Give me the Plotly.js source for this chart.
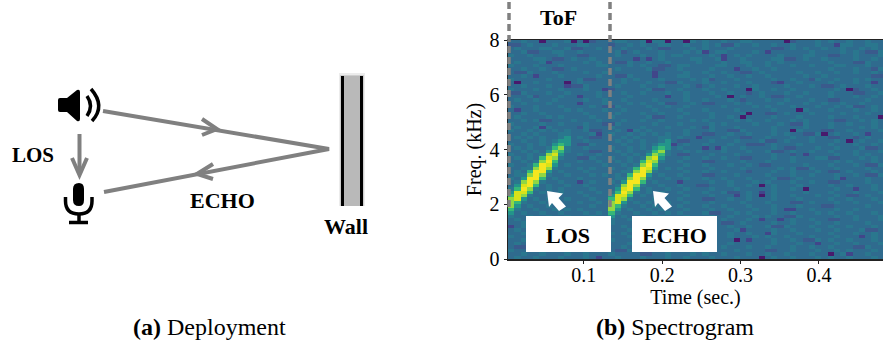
<!DOCTYPE html>
<html><head><meta charset="utf-8">
<script src="https://cdn.plot.ly/plotly-3.0.1.min.js"></script>
<style>html,body{margin:0;padding:0;background:#fff}#c{width:883px;height:349px}</style></head>
<body><div id="c"></div>
<script>
// Spectrogram intensity levels 0-9, top row first, 60 columns.
const spectrogramRows = [
"3343303334 0302333443 3404403304 3433433443 3333023334 3433433433",
"2234333433 3443332334 3433443343 3434224334 3343343334 3314433443",
"3433344334 2233433343 3343223334 3433343333 3322343433 4334334343",
"3342233443 3433333423 4333433343 4134433334 3133333343 3334343224",
"4334333343 3223333433 3433434433 3343134343 3334333443 3223343334",
"3333443223 4334333333 1313433334 4334133433 3344223433 4333343343",
"3433341333 3343433224 3343343333 4333433443 3434333333 3433322433",
"4333433343 3333443334 3433223443 3334433343 3433343343 3344333433",
"3343343223 4333333433 3342233433 3343331334 3343333333 3433343324",
"3224333433 3343343333 3331333343 3433433223 4333334334 3343343343",
"3343133343 3333433224 3331333443 3343343343 3433333433 4333333322",
"4333334333 3422333343 4333433334 3423334333 3343343324 3343343433",
"3033433330 3433333343 3343322433 3433433343 3321334333 3433343313",
"3343334331 2243333433 3433433343 2343334334 3333433343 2234333433",
"4333433343 3343312333 3342233433 3433433304 3343343333 3343023343",
"2243334334 3333433343 3433343343 3343343323 4333433433 3433322334",
"3334233343 3133433334 3333313343 3334303433 4322334333 3433343343",
"3433433433 3343343343 3334333343 3433343233 3433433343 3223333433",
"3343334333 3133343334 3433422334 3223334343 3334333433 4334334333",
"4333433343 3334322433 3343343343 3333433334 3433343334 3343422343",
"3133433334 3433343343 3334333433 3433334333 3343330433 3433343343",
"3343343333 3343333433 3433433343 3343333403 3223433343 3334333433",
"3433334343 3334334333 3342233433 3343343033 3343334333 3433343330",
"3343422333 4333433343 3433433334 3433334343 3433343433 3322334343",
"4333343343 3343322433 3334333433 3343433334 3334322433 3433433343",
"3433414333 3243334333 3433343334 3243334333 3343333433 3433334343",
"4334343434 3342233431 4343333343 3343322433 3343304333 2233433334",
"3343433344 3334134334 3434343343 3223343343 3343433224 0343343133",
"3434343345 3432233343 4333443433 1333433223 3433343343 3223323433",
"3343343455 3343333434 3433453223 3343334333 4223433343 3343034334",
"4334343565 3224333343 3434551343 3433343322 2343334333 3433343343",
"3434334674 3343334334 3435653433 3131433433 3343223334 3343334223",
"3343435764 3332233434 3346743343 4333433343 3422343343 3433343334",
"4334347853 3433433343 4357643223 3343334333 3343323133 3343343433",
"3434368743 3224334334 3478533343 3433433223 3343343334 4223334343",
"3343479633 3433433434 3687433433 3223333433 3433343333 3343433343",
"4334698534 3333343343 4796333343 3433343343 2233333433 3433343224",
"3344797433 3434334334 6985343433 3343333433 3334342243 3343333433",
"3436995343 3343333344 7974333343 3433433323 3343343334 3223433343",
"3447974334 3334343436 9953433433 3223334333 3433343343 3343343224",
"4359963433 3433333447 9743343343 3433433343 3342234333 3341333433",
"3479743343 3134334359 9634333133 3343343334 3433343343 3223333433",
"3589634334 3343333479 7433433433 2233343343 0343334333 3433433343",
"4697434343 3334333589 6343343343 3343334333 3343343033 3343313343",
"5886343343 3433434697 4343433433 3433422343 1343333433 3433343334",
"6874333433 3343335886 3433433343 3343331343 0343343334 3343223433",
"7853434334 3334336874 3334333433 3223343343 3343334333 3433433343",
"7643343433 3433437853 4343343343 3343333433 3433322343 3343343334",
"7534334343 3334337643 3434333433 3433433343 3343334333 2233333433",
"6433433434 3433337534 3343433343 3343343334 3343113343 3343343333",
"5343343343 3343436433 4334343433 3422334343 3343343334 3433433343",
"4334334334 3334335343 3433433343 3343343334 3433224333 3343343334",
"3433433343 3433434334 3343343433 3433433343 1331343343 3223343334",
"3343343334 3334334333 3433433343 3343223433 3343343334 3343333433",
"1343334333 3433343343 3343334334 3433343343 3422433343 3433433343",
"3433433433 3223343334 3433343333 3343334133 3343343334 3343334223",
"3343343333 3433334343 3343433433 3433343343 3143334333 3433343343",
"4333334343 3343433334 3422433343 3343343334 3433433343 3343331343",
"3343433433 3334334333 3343343334 3433330313 3343343224 3433433343",
"3433343343 3433343334 3433433343 3223343333 3343334331 3343343334",
"3223334333 3343433343 3343334334 3433433343 3433343343 3433322433",
"4333433343 3433343224 3433433343 3343334333 3223343334 3343433343",
"3343343334 3343334333 3223343334 3433433343 3433433343 3034133433",
"3433433343 3343133433 3433343343 3343334333 0343343334 3433433343"
];
const levelColors = ["#481a6c","#41468a","#3a5a8c","#2f6b8e","#2a778e","#23948b","#35b779","#90d743","#d8e219","#f5e61f"];
const timeStart = 0.0034, timeEnd = 0.4817, timeStep = 0.008, freqTop = 7.9375, freqStep = -0.125;
const timeTicks = [0.1, 0.2, 0.3, 0.4], timeTickLabels = ["0.1", "0.2", "0.3", "0.4"];
const freqTicks = [0, 2, 4, 6, 8], freqTickLabels = ["0", "2", "4", "6", "8"];

const zGrid = spectrogramRows.map(r => r.replace(/ /g, "").split("").map(Number));
const serif = '"Liberation Serif", serif';
const grey = "#808080";

const shape = (path, o) => Object.assign({type:"path", xref:"x2", yref:"y2", path, layer:"above",
  line:{color:"rgba(0,0,0,0)", width:0}}, o);
const stroke = (path, color, width, extra) => shape(path, {line:Object.assign({color, width}, extra||{})});
const fill = (path, color) => shape(path, {fillcolor:color});
const rect = (a,b,c,d,color) => ({type:"rect", xref:"x2", yref:"y2", x0:a, x1:c, y0:b, y1:d, fillcolor:color, line:{width:0}, layer:"above"});

const shapes = [
  // speaker
  fill("M60 98 L67 98 L77 90 Q80 89 80 92 L80 119 Q80 122 77 121 L67 112 L60 112 Q58 112 58 110 L58 100 Q58 98 60 98 Z", "#000"),
  stroke("M87 96 Q94 106 87 116", "#000", 3.5),
  stroke("M91 89 Q106 106 92 121", "#000", 3.5),
  // microphone
  fill("M73 189 Q73 183 79 183 Q84 183 84 189 L84 200 Q84 206 79 206 Q73 206 73 200 Z", "#000"),
  stroke("M65.5 197 L65.5 201 Q65.5 214 79 214 Q92 214 92 201 L92 197", "#000", 3.5),
  stroke("M79 214 L79 222", "#000", 3.5),
  stroke("M69 222.5 L88 222.5", "#000", 3.5),
  // signal paths
  stroke("M79.5 134 L79.5 174", grey, 4),
  stroke("M72 158 L79.5 175 L87 158", grey, 4),
  stroke("M103 111 L329 149 L104 192", grey, 4),
  stroke("M202 119 L217 129 L202 135", grey, 4),
  stroke("M213 164 L197 174 L213 179", grey, 4),
  // wall
  rect(339, 73, 365, 206, "rgba(120,120,120,0.14)"),
  rect(340, 75, 364, 206, "rgba(120,120,120,0.25)"),
  rect(342, 76, 362, 206, "#b9b9b9"),
  rect(341, 76, 344, 206, "#000"),
  rect(360, 76, 363, 206, "#000"),
  // time-of-flight markers
  stroke("M509 2 L509 210", grey, 3.5, {dash:"7px,4px"}),
  stroke("M610 2 L610 210", grey, 3.5, {dash:"7px,4px"}),
  // callouts
  fill("M547 191 L563 193.5 L558.5 198 L566 206.5 L559 211 L552 203 L549 207 Z", "#fff"),
  fill("M653 191 L669 193.5 L664.5 198 L672 206.5 L665 211 L658 203 L655 207 Z", "#fff"),
  rect(526, 216, 611, 252, "#fff"),
  rect(632, 216, 717, 252, "#fff")
];

const note = (text, x, y, size) => ({text, x, y, xref:"x2", yref:"y2", showarrow:false,
  xanchor:"center", yanchor:"middle", font:{family:serif, size, color:"#000"}});
const annotations = [
  note("<b>LOS</b>", 33, 155, 21),
  note("<b>ECHO</b>", 222, 200, 22),
  note("<b>Wall</b>", 346, 226, 22),
  note("<b>ToF</b>", 558, 17, 22),
  note("<b>LOS</b>", 568, 235, 22),
  note("<b>ECHO</b>", 674, 235, 22),
  note("<b>(a)</b> Deployment", 209, 327, 24),
  note("<b>(b)</b> Spectrogram", 675, 327, 24)
];

Plotly.newPlot("c", [{
  type:"heatmap", z:zGrid, x0:timeStart + timeStep/2, dx:timeStep, y0:freqTop, dy:freqStep,
  zmin:0, zmax:9, showscale:false, hoverinfo:"skip",
  colorscale: levelColors.map((c,i)=>[i/(levelColors.length-1), c])
}], {
  width:883, height:349, margin:{l:0,r:0,t:0,b:0}, paper_bgcolor:"#fff", plot_bgcolor:"rgba(0,0,0,0)",
  showlegend:false,
  xaxis:{domain:[508/883,1], range:[timeStart,timeEnd], tickmode:"array", tickvals:timeTicks, ticktext:timeTickLabels,
    ticks:"outside", ticklen:3, tickwidth:1, tickcolor:"#222", showgrid:false, zeroline:false, showline:true, mirror:true, linecolor:"#222", linewidth:1.5,
    ticklabelstandoff:-6,
    tickfont:{family:serif,size:20,color:"#000"}, title:{text:"Time (sec.)", font:{family:serif,size:20,color:"#000"}, standoff:1}},
  yaxis:{domain:[90/349,309/349], range:[0,8], tickmode:"array", tickvals:freqTicks, ticktext:freqTickLabels,
    ticks:"outside", ticklen:3, tickwidth:1, tickcolor:"#222", showgrid:false, zeroline:false, showline:true, linecolor:"#222", linewidth:1.5,
    tickfont:{family:serif,size:20,color:"#000"}, title:{text:"Freq. (kHz)", font:{family:serif,size:20,color:"#000"}, standoff:2}},
  xaxis2:{anchor:"y2", domain:[0,1], range:[0,883], visible:false, fixedrange:true},
  yaxis2:{anchor:"x2", domain:[0,1], range:[349,0], visible:false, fixedrange:true},
  shapes, annotations
}, {staticPlot:true, displayModeBar:false});
</script></body></html>
